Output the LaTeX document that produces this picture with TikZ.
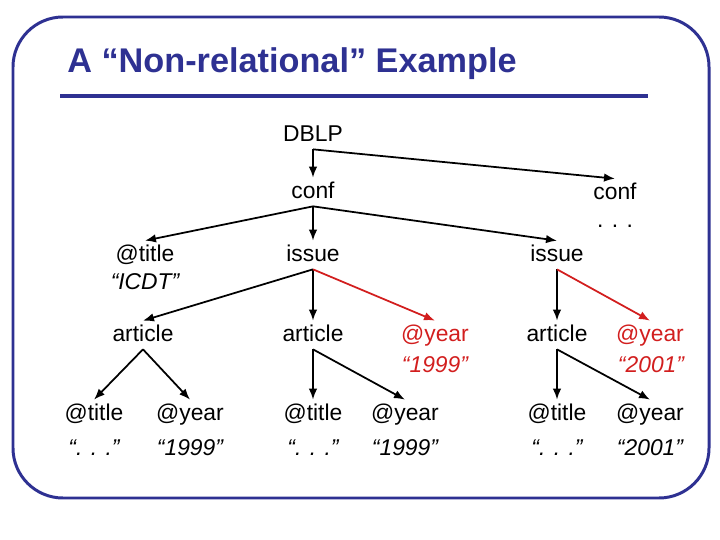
\documentclass[tikz,border=0pt]{standalone}
\usepackage{fontspec}
\setmainfont{Liberation Sans}
\usetikzlibrary{arrows.meta}
\definecolor{frameblue}{RGB}{46,49,146}
\definecolor{hilite}{RGB}{210,30,30}

\begin{document}
\begin{tikzpicture}[x=0.02cm,y=-0.02cm,
  lbl/.style={inner sep=0.06cm,text height=0.36cm,text depth=0.08cm,font=\fontsize{13}{15}\selectfont},
  val/.style={anchor=base,inner sep=0pt,font=\fontsize{13}{15}\selectfont\itshape},
  arr/.style={-{Latex[length=0.22cm,width=0.17cm]},line width=1pt}]
\useasboundingbox (0,0) rectangle (720,540);
% frame and heading
\draw[frameblue,line width=1.7pt,rounded corners=1cm] (13,17) rectangle (709,498);
\node[anchor=base west,inner sep=0pt,text=frameblue,font=\fontsize{19.5}{23}\selectfont\bfseries] (head) at (67,73) {A “Non-relational” Example};
\draw[frameblue,line width=2.2pt] (60,96) -- (648,96);
% top levels
\node[lbl] (dblp) at (313,135) {DBLP};
\node[lbl] (conf1) at (313,192) {conf};
\node[lbl] (conf2) at (615,193) {conf};
\node[anchor=base,inner sep=0pt,font=\fontsize{13}{15}\selectfont] (more) at (615,228) {. . .};
\node[lbl] (ctitle) at (145,255) {@title};
\node[val] (ctitlev) at (145,290) {“ICDT”};
\node[lbl] (issue1) at (313,255) {issue};
\node[lbl] (issue2) at (557,255) {issue};
% articles
\node[lbl] (art1) at (143,335) {article};
\node[lbl] (art2) at (313,335) {article};
\node[lbl] (art3) at (557,335) {article};
\node[lbl,text=hilite] (year4) at (435,335) {@year};
\node[val,text=hilite] (year4v) at (435,373) {“1999”};
\node[lbl,text=hilite] (year5) at (650,335) {@year};
\node[val,text=hilite] (year5v) at (651,373) {“2001”};
% attributes of the articles
\foreach \n/\tx/\yx/\yv in {1/94/190/1999,2/313/405/1999,3/557/650/2001} {
  \node[lbl] (title\n) at (\tx,414) {@title};
  \node[val] (title\n v) at (\tx,455) {“. . .”};
  \node[lbl] (year\n) at (\yx,414) {@year};
  \node[val] (year\n v) at (\yx,455) {“\yv”};
}
% edges
\draw[arr] (dblp.south) -- (conf1.north);
\draw[arr] (dblp.south) -- (conf2.north);
\draw[arr] (conf1.south) -- (ctitle.north);
\draw[arr] (conf1.south) -- (issue1.north);
\draw[arr] (conf1.south) -- (issue2.north);
\draw[arr] (issue1.south) -- (art1.north);
\draw[arr] (issue1.south) -- (art2.north);
\draw[arr,hilite] (issue1.south) -- (year4.north);
\draw[arr] (issue2.south) -- (art3.north);
\draw[arr,hilite] (issue2.south) -- (year5.north);
\draw[arr] (art1.south) -- (title1.north);
\draw[arr] (art1.south) -- (year1.north);
\draw[arr] (art2.south) -- (title2.north);
\draw[arr] (art2.south) -- (year2.north);
\draw[arr] (art3.south) -- (title3.north);
\draw[arr] (art3.south) -- (year3.north);
\end{tikzpicture}
\end{document}
